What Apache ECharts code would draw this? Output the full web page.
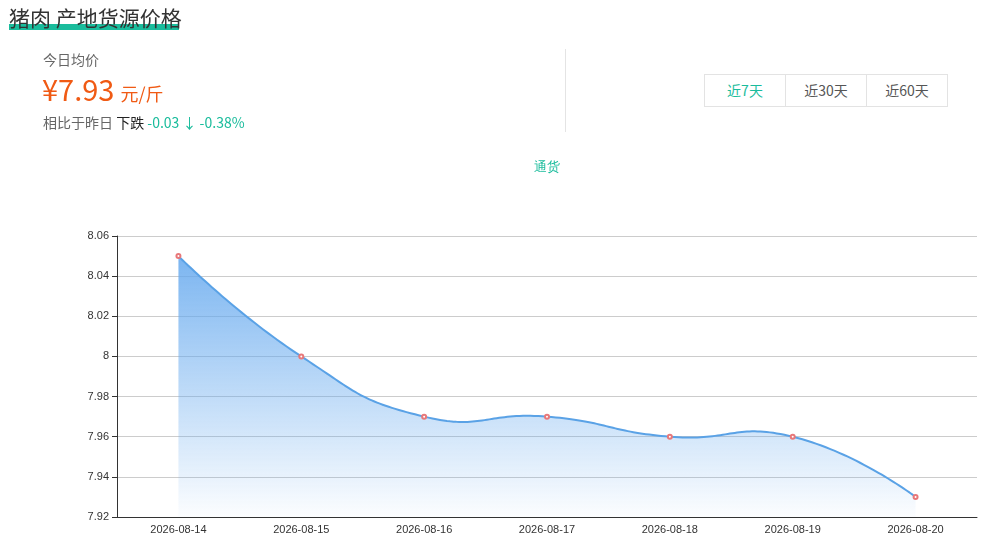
<!DOCTYPE html>
<html><head><meta charset="utf-8">
<script src="https://cdn.jsdelivr.net/npm/echarts@6/dist/echarts.min.js"></script>
<style>
html,body{margin:0;padding:0;background:#fff;font-family:"Microsoft YaHei","Noto Sans CJK SC",sans-serif;}
#chart{position:absolute;left:0;top:0;width:987px;height:552px;}
.title{position:absolute;left:9px;top:4px;font-size:21px;color:#333;line-height:26px;z-index:2;}
.title .bar{position:absolute;left:0;top:20px;width:170px;height:6px;background:#1abc9c;z-index:-1;}
.lbl{position:absolute;left:43px;top:49px;font-size:14px;color:#666;z-index:2;}
.price{position:absolute;left:42px;top:70px;font-size:29px;color:#f05a14;z-index:2;line-height:36px;}
.price .u{font-size:18px;margin-left:6px;}
.cmp{position:absolute;left:43px;top:112px;font-size:14px;color:#666;z-index:2;}
.cmp .d{color:#222;}
.cmp .g{color:#1abc9c;}
.sep{position:absolute;left:565px;top:49px;width:1px;height:83px;background:#e4e4e4;z-index:2;}
.btns{position:absolute;left:705px;top:74px;height:33px;display:flex;z-index:2;}
.btns div{width:80px;height:31px;border:1px solid #e3e3e3;margin-left:-1px;text-align:center;line-height:31px;font-size:14px;color:#555;background:#fff;}
.btns div.on{color:#1abc9c;}
</style></head>
<body>
<div id="chart"></div>
<div class="title"><span class="bar"></span>猪肉 产地货源价格</div>
<div class="lbl">今日均价</div>
<div class="price">¥7.93<span class="u">元/斤</span></div>
<div class="cmp">相比于昨日 <span class="d">下跌</span> <span class="g">-0.03 ↓ -0.38%</span></div>
<div class="sep"></div>
<div class="btns"><div class="on">近7天</div><div>近30天</div><div>近60天</div></div>
<script>
const categories = ['2026-08-14','2026-08-15','2026-08-16','2026-08-17','2026-08-18','2026-08-19','2026-08-20'];
const seriesName = '通货';
const prices = [8.05, 8.00, 7.97, 7.97, 7.96, 7.96, 7.93];
const yMin = 7.92, yMax = 8.06, yStep = 0.02;

// classic cardinal-style smoothing (control points from neighbours)
function smoothPoints(pts, smooth, steps) {
  const n = pts.length, cps = [];
  for (let i = 0; i < n; i++) {
    const p = pts[i];
    if (i === 0 || i === n - 1) { cps.push([p[0], p[1]], [p[0], p[1]]); continue; }
    const pr = pts[i - 1], nx = pts[i + 1];
    const vx = (nx[0] - pr[0]) * smooth, vy = (nx[1] - pr[1]) * smooth;
    let d0 = Math.hypot(p[0] - pr[0], p[1] - pr[1]);
    let d1 = Math.hypot(p[0] - nx[0], p[1] - nx[1]);
    const s = d0 + d1; if (s) { d0 /= s; d1 /= s; }
    cps.push([p[0] - vx * d0, p[1] - vy * d0], [p[0] + vx * d1, p[1] + vy * d1]);
  }
  const out = [pts[0]];
  for (let i = 0; i < n - 1; i++) {
    const a = pts[i], b = cps[2 * i + 1], c = cps[2 * (i + 1)], d = pts[i + 1];
    for (let k = 1; k <= steps; k++) {
      const t = k / steps, u = 1 - t;
      out.push([
        u*u*u*a[0] + 3*u*u*t*b[0] + 3*u*t*t*c[0] + t*t*t*d[0],
        u*u*u*a[1] + 3*u*u*t*b[1] + 3*u*t*t*c[1] + t*t*t*d[1]
      ]);
    }
  }
  return out;
}

const chart = echarts.init(document.getElementById('chart'));
chart.setOption({
  animation:false,
  legend:{data:[seriesName], top:155, left:524, icon:'none', itemWidth:0, itemGap:0,
    textStyle:{color:'#1abc9c', fontSize:13}},
  grid:{left:117, right:10, top:236, bottom:35},
  xAxis:{type:'category', data:categories, boundaryGap:true,
    axisLine:{lineStyle:{color:'#333'}}, axisTick:{lineStyle:{color:'#333'}},
    axisLabel:{color:'#333', fontSize:11, margin:7}},
  yAxis:{type:'value', min:yMin, max:yMax, interval:yStep,
    axisLine:{show:true, lineStyle:{color:'#333'}}, axisTick:{show:true, lineStyle:{color:'#333'}},
    axisLabel:{color:'#333', fontSize:11, formatter:v=>String(+v.toFixed(2))},
    splitLine:{lineStyle:{color:'#ccc'}}},
  series:[
    {name:'curve', type:'custom', data:prices.map((v,i)=>[i,v]), z:2, silent:true,
     renderItem:function(params, api){
       if (params.dataIndex !== 0) return null;
       const pts = prices.map((v,i)=>api.coord([i, v]));
       const curve = smoothPoints(pts, 0.5, 40);
       const base0 = api.coord([0, yMin]), base1 = api.coord([prices.length-1, yMin]);
       const area = curve.concat([[base1[0], base1[1]], [base0[0], base0[1]]]);
       return {type:'group', children:[
         {type:'polygon', shape:{points:area}, style:{
           fill:new echarts.graphic.LinearGradient(0,0,0,1,[
             {offset:0,color:'rgba(100,168,238,0.85)'},{offset:1,color:'rgba(100,168,238,0.02)'}])}},
         {type:'polyline', shape:{points:curve}, style:{stroke:'#5aa2e6', lineWidth:2, fill:null}}
       ]};
     }},
    {name:seriesName, type:'line', data:prices, z:5,
     symbol:'emptyCircle', symbolSize:4,
     itemStyle:{color:'#e8787a', borderColor:'#e8787a'},
     lineStyle:{width:0, opacity:0}}
  ]
});
</script>
</body></html>
